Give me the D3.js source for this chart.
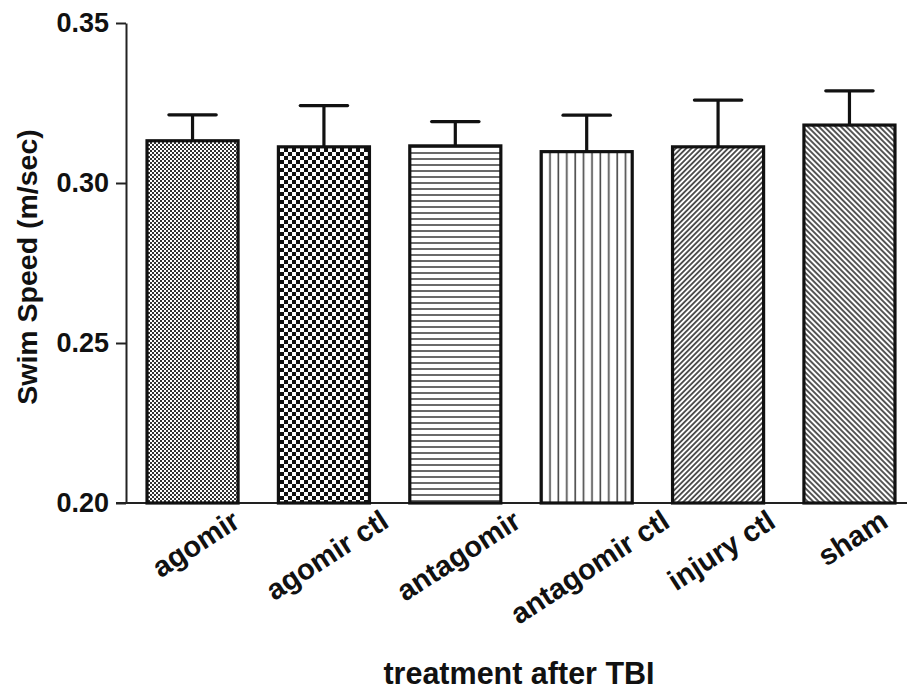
<!DOCTYPE html>
<html>
<head>
<meta charset="utf-8">
<style>
  body { margin: 0; background: #fff; }
  text { font-family: "Liberation Sans", Arial, sans-serif; }
</style>
</head>
<body>
<div id="chart"></div>
<script src="https://cdnjs.cloudflare.com/ajax/libs/d3/7.8.5/d3.min.js"></script>
<script>
  // data
  const categories = ["agomir", "agomir ctl", "antagomir", "antagomir ctl", "injury ctl", "sham"];
  const means = [0.3132, 0.3113, 0.3116, 0.3098, 0.3113, 0.3181];
  const errors = [0.0081, 0.0129, 0.0076, 0.0114, 0.0146, 0.0107];
  const yTicks = [0.20, 0.25, 0.30, 0.35];
  const patterns = ["fineCheck", "check", "hLines", "vLines", "diagUp", "diagDown"];

  const width = 907;
  const height = 691;
  const margin = {top: 23, right: -9, bottom: 188, left: 126};

  const svg = d3.create("svg")
    .attr("width", width)
    .attr("height", height)
    .attr("viewBox", [0, 0, width, height]);

  const x = d3.scaleBand()
    .domain(categories)
    .range([margin.left, width - margin.right])
    .paddingInner(0.307)
    .paddingOuter(0.16);

  const y = d3.scaleLinear()
    .domain([0.20, 0.35])
    .range([height - margin.bottom, margin.top]);

  // fill patterns
  const defs = svg.append("defs");

  let p = defs.append("pattern").attr("id", "fineCheck")
    .attr("patternUnits", "userSpaceOnUse").attr("width", 4).attr("height", 4);
  p.append("rect").attr("width", 4).attr("height", 4).attr("fill", "#fff");
  p.append("rect").attr("width", 2).attr("height", 2).attr("fill", "#333");
  p.append("rect").attr("x", 2).attr("y", 2).attr("width", 2).attr("height", 2).attr("fill", "#333");

  p = defs.append("pattern").attr("id", "check")
    .attr("patternUnits", "userSpaceOnUse").attr("width", 8).attr("height", 8);
  p.append("rect").attr("width", 8).attr("height", 8).attr("fill", "#fff");
  p.append("rect").attr("width", 4).attr("height", 4).attr("fill", "#111");
  p.append("rect").attr("x", 4).attr("y", 4).attr("width", 4).attr("height", 4).attr("fill", "#111");

  p = defs.append("pattern").attr("id", "hLines")
    .attr("patternUnits", "userSpaceOnUse").attr("width", 8).attr("height", 6);
  p.append("rect").attr("width", 8).attr("height", 6).attr("fill", "#fff");
  p.append("line").attr("x1", 0).attr("x2", 8).attr("y1", 3).attr("y2", 3)
    .attr("stroke", "#444").attr("stroke-width", 1.6);

  p = defs.append("pattern").attr("id", "vLines")
    .attr("patternUnits", "userSpaceOnUse").attr("width", 8.4).attr("height", 8);
  p.append("rect").attr("width", 8.4).attr("height", 8).attr("fill", "#fff");
  p.append("line").attr("y1", 0).attr("y2", 8).attr("x1", 4).attr("x2", 4)
    .attr("stroke", "#444").attr("stroke-width", 1.6);

  p = defs.append("pattern").attr("id", "diagUp")
    .attr("patternUnits", "userSpaceOnUse").attr("width", 8).attr("height", 3.7)
    .attr("patternTransform", "rotate(-45)");
  p.append("rect").attr("width", 8).attr("height", 3.7).attr("fill", "#fff");
  p.append("line").attr("x1", 0).attr("x2", 8).attr("y1", 1.85).attr("y2", 1.85)
    .attr("stroke", "#222").attr("stroke-width", 1.5);

  p = defs.append("pattern").attr("id", "diagDown")
    .attr("patternUnits", "userSpaceOnUse").attr("width", 8).attr("height", 3.9)
    .attr("patternTransform", "rotate(45)");
  p.append("rect").attr("width", 8).attr("height", 3.9).attr("fill", "#fff");
  p.append("line").attr("x1", 0).attr("x2", 8).attr("y1", 1.95).attr("y2", 1.95)
    .attr("stroke", "#222").attr("stroke-width", 1.5);

  const data = categories.map((c, i) => ({name: c, mean: means[i], err: errors[i], pat: patterns[i]}));

  // x baseline
  svg.append("line")
    .attr("x1", margin.left - 10).attr("x2", width)
    .attr("y1", y(0.20)).attr("y2", y(0.20))
    .attr("stroke", "#222").attr("stroke-width", 2);

  // y axis
  const yAxis = svg.append("g")
    .attr("transform", `translate(${margin.left},0)`)
    .call(d3.axisLeft(y).tickValues(yTicks).tickFormat(d3.format(".2f")).tickSize(10).tickPadding(7).tickSizeOuter(0));
  yAxis.select(".domain").attr("stroke", "#222").attr("stroke-width", 2);
  yAxis.selectAll(".tick line").attr("stroke", "#222").attr("stroke-width", 2);
  yAxis.selectAll(".tick text")
    .attr("font-size", 27).attr("font-weight", "bold").attr("fill", "#111");

  // error bars
  const capW = x.bandwidth() * 0.52;
  const eb = svg.append("g").attr("stroke", "#111").attr("stroke-width", 3.2);
  eb.selectAll("line.v")
    .data(data)
    .join("line")
    .attr("class", "v")
    .attr("x1", d => x(d.name) + x.bandwidth() / 2)
    .attr("x2", d => x(d.name) + x.bandwidth() / 2)
    .attr("y1", d => y(d.mean))
    .attr("y2", d => y(d.mean + d.err));
  eb.selectAll("line.cap")
    .data(data)
    .join("line")
    .attr("class", "cap")
    .attr("stroke-linecap", "round")
    .attr("x1", d => x(d.name) + x.bandwidth() / 2 - capW / 2)
    .attr("x2", d => x(d.name) + x.bandwidth() / 2 + capW / 2)
    .attr("y1", d => y(d.mean + d.err))
    .attr("y2", d => y(d.mean + d.err));

  // bars
  svg.append("g")
    .selectAll("rect")
    .data(data)
    .join("rect")
    .attr("x", d => x(d.name))
    .attr("y", d => y(d.mean))
    .attr("width", x.bandwidth())
    .attr("height", d => y(0.20) - y(d.mean))
    .attr("fill", d => `url(#${d.pat})`)
    .attr("stroke", "#111")
    .attr("stroke-width", 3.2);

  // rotated category labels, centred under each bar with their tops aligned
  const angle = 33;
  const rad = angle * Math.PI / 180;
  const labelTop = 508;
  const labels = svg.append("g")
    .selectAll("text")
    .data(data)
    .join("text")
    .attr("font-size", 29)
    .attr("font-weight", "bold")
    .attr("fill", "#111")
    .attr("text-anchor", "middle")
    .attr("dy", "0.35em")
    .text(d => d.name);

  // y axis title
  svg.append("text")
    .attr("transform", `translate(37,${(y(0.20) + y(0.35)) / 2 + 4}) rotate(-90)`)
    .attr("text-anchor", "middle")
    .attr("font-size", 28.5)
    .attr("font-weight", "bold")
    .attr("fill", "#111")
    .text("Swim Speed (m/sec)");

  // x axis title
  svg.append("text")
    .attr("x", 519)
    .attr("y", 684)
    .attr("text-anchor", "middle")
    .attr("font-size", 30.5)
    .attr("font-weight", "bold")
    .attr("fill", "#111")
    .text("treatment after TBI");

  d3.select("#chart").node().appendChild(svg.node());

  labels.each(function(d) {
    const w = this.getComputedTextLength();
    const h = 22;
    const cy = labelTop + (w / 2) * Math.sin(rad) + (h / 2) * Math.cos(rad);
    d3.select(this).attr("transform",
      `translate(${x(d.name) + x.bandwidth() / 2 + 3},${cy}) rotate(${-angle})`);
  });
</script>
</body>
</html>
